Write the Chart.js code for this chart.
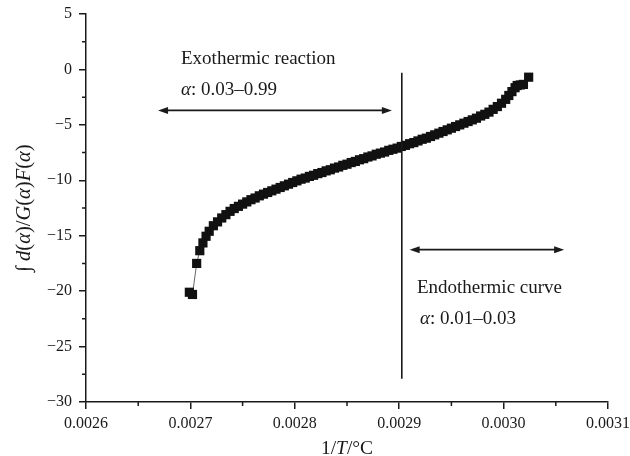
<!DOCTYPE html>
<html lang="en">
<head>
  <meta charset="UTF-8">
  <title>Integral vs 1/T</title>
  <script src="https://cdn.jsdelivr.net/npm/chart.js"></script>
  <style>
    body { margin: 0; background: #fff; }
    #wrap { width: 630px; height: 456px; }
  </style>
</head>
<body>
  <div id="wrap"><canvas id="chart"></canvas></div>
  <script>
    // values
    const invT = [
      0.002699, 0.002702, 0.002706, 0.002709, 0.002712, 0.002715, 0.002718, 0.002722,
      0.002726, 0.002730, 0.002734, 0.002738, 0.002742, 0.002746, 0.002750, 0.002754,
      0.002758, 0.002762, 0.002766, 0.002770, 0.002774, 0.002778, 0.002782, 0.002786,
      0.002790, 0.002794, 0.002798, 0.002802, 0.002806, 0.002810, 0.002814, 0.002818,
      0.002822, 0.002826, 0.002830, 0.002834, 0.002838, 0.002842, 0.002846, 0.002850,
      0.002854, 0.002858, 0.002862, 0.002866, 0.002870, 0.002874, 0.002878, 0.002882,
      0.002886, 0.002890, 0.002894, 0.002898, 0.002902, 0.002906, 0.002910, 0.002914,
      0.002918, 0.002922, 0.002926, 0.002930, 0.002934, 0.002938, 0.002942, 0.002946,
      0.002950, 0.002954, 0.002958, 0.002962, 0.002966, 0.002970, 0.002974, 0.002978,
      0.002982, 0.002986, 0.002990, 0.002994, 0.002998, 0.003002, 0.003005, 0.003008,
      0.003011, 0.003013, 0.003016, 0.003019, 0.003024
    ];
    const fAlpha = [
      -20.1, -20.3, -17.5, -16.35, -15.65, -15.05, -14.6, -14.1,
      -13.75, -13.4, -13.1, -12.8, -12.55, -12.35, -12.15, -11.95,
      -11.75, -11.6, -11.4, -11.25, -11.1, -10.95, -10.8, -10.65,
      -10.5, -10.35, -10.2, -10.05, -9.9, -9.8, -9.65, -9.55,
      -9.4, -9.3, -9.15, -9.05, -8.9, -8.8, -8.65, -8.55,
      -8.4, -8.3, -8.15, -8.05, -7.9, -7.8, -7.65, -7.55,
      -7.45, -7.3, -7.2, -7.1, -6.95, -6.85, -6.7, -6.6,
      -6.45, -6.3, -6.2, -6.05, -5.9, -5.75, -5.6, -5.45,
      -5.3, -5.15, -5.0, -4.85, -4.7, -4.55, -4.4, -4.2,
      -4.05, -3.85, -3.6, -3.35, -3.05, -2.7, -2.35, -2.0,
      -1.65, -1.45, -1.4, -1.35, -0.7
    ];
    const xTicks = [0.0026, 0.0027, 0.0028, 0.0029, 0.0030, 0.0031];
    const yTicks = [5, 0, -5, -10, -15, -20, -25, -30];

    // annotation anchors, in data units
    const splitX = 0.0029025;
    const splitTop = -0.3, splitBottom = -27.9;
    const exoArrow = { from: 0.002669, to: 0.002893, y: -3.7 };
    const endoArrow = { from: 0.002910, to: 0.003058, y: -16.26 };
    const exoText = { x: 0.002691, y1: 0.52, y2: -2.35 };
    const endoText = { x: 0.002917, y1: -20.2, y2: -22.92 };

    const SERIF = '"Liberation Serif", "DejaVu Serif", serif';
    const INK = '#1a1a1a';

    function runs(ctx, parts, x, y, size) {
      let cx = x;
      parts.forEach(([txt, ital]) => {
        ctx.font = (ital ? 'italic ' : '') + size + 'px ' + SERIF;
        ctx.fillText(txt, cx, y);
        cx += ctx.measureText(txt).width;
      });
      return cx - x;
    }

    function widthOf(ctx, parts, size) {
      let w = 0;
      parts.forEach(([txt, ital]) => {
        ctx.font = (ital ? 'italic ' : '') + size + 'px ' + SERIF;
        w += ctx.measureText(txt).width;
      });
      return w;
    }

    function head(ctx, x, y, dir) {
      ctx.beginPath();
      ctx.moveTo(x, y);
      ctx.lineTo(x - dir * 10, y - 3.5);
      ctx.lineTo(x - dir * 10, y + 3.5);
      ctx.closePath();
      ctx.fill();
    }

    function arrow(ctx, x1, x2, y) {
      ctx.beginPath();
      ctx.moveTo(x1 + 4, y);
      ctx.lineTo(x2 - 4, y);
      ctx.stroke();
      head(ctx, x1, y, -1);
      head(ctx, x2, y, 1);
    }

    const extras = {
      id: 'extras',
      afterDraw(chart) {
        const { ctx, scales: { x, y } } = chart;
        ctx.save();
        ctx.strokeStyle = INK;
        ctx.fillStyle = INK;

        // minor ticks
        ctx.lineWidth = 1.5;
        ctx.beginPath();
        for (let i = 0; i < xTicks.length - 1; i++) {
          const px = x.getPixelForValue((xTicks[i] + xTicks[i + 1]) / 2);
          ctx.moveTo(px, y.bottom);
          ctx.lineTo(px, y.bottom + 4);
        }
        for (let i = 0; i < yTicks.length - 1; i++) {
          const py = y.getPixelForValue((yTicks[i] + yTicks[i + 1]) / 2);
          ctx.moveTo(x.left, py);
          ctx.lineTo(x.left - 4, py);
        }
        ctx.stroke();

        // divider line
        const sx = x.getPixelForValue(splitX);
        ctx.lineWidth = 1.6;
        ctx.beginPath();
        ctx.moveTo(sx, y.getPixelForValue(splitTop));
        ctx.lineTo(sx, y.getPixelForValue(splitBottom));
        ctx.stroke();

        // arrows
        ctx.lineWidth = 1.8;
        arrow(ctx, x.getPixelForValue(exoArrow.from), x.getPixelForValue(exoArrow.to), y.getPixelForValue(exoArrow.y));
        arrow(ctx, x.getPixelForValue(endoArrow.from), x.getPixelForValue(endoArrow.to), y.getPixelForValue(endoArrow.y));

        // labels
        ctx.textBaseline = 'alphabetic';
        ctx.textAlign = 'left';
        runs(ctx, [['Exothermic reaction', false]], x.getPixelForValue(exoText.x), y.getPixelForValue(exoText.y1), 19);
        runs(ctx, [['α', true], [': 0.03–0.99', false]], x.getPixelForValue(exoText.x), y.getPixelForValue(exoText.y2), 19);
        runs(ctx, [['Endothermic curve', false]], x.getPixelForValue(endoText.x), y.getPixelForValue(endoText.y1), 19);
        runs(ctx, [['α', true], [': 0.01–0.03', false]], x.getPixelForValue(endoText.x) + 3, y.getPixelForValue(endoText.y2), 19);

        // x title
        const xt = [['1/', false], ['T', true], ['/°C', false]];
        const xw = widthOf(ctx, xt, 19.5);
        runs(ctx, xt, (x.left + x.right) / 2 - xw / 2, 454, 19.5);

        // y title
        const yt = [['∫ ', false], ['d', true], ['(', false], ['α', true], [')/', false], ['G', true],
                    ['(', false], ['α', true], [')', false], ['F', true], ['(', false], ['α', true], [')', false]];
        const yw = widthOf(ctx, yt, 20.5);
        ctx.translate(30, (y.top + y.bottom) / 2);
        ctx.rotate(-Math.PI / 2);
        runs(ctx, yt, -yw / 2, 0, 20.5);
        ctx.restore();
      }
    };

    new Chart(document.getElementById('chart'), {
      type: 'scatter',
      data: {
        datasets: [{
          data: invT.map((v, i) => ({ x: v, y: fAlpha[i] })),
          showLine: true,
          borderColor: '#666',
          borderWidth: 1,
          pointStyle: 'rect',
          pointRadius: 6.5,
          pointBackgroundColor: '#111',
          pointBorderColor: '#111',
          pointBorderWidth: 0
        }]
      },
      options: {
        responsive: true,
        maintainAspectRatio: false,
        animation: false,
        layout: { padding: { top: 14, right: 22, left: 0, bottom: 0 } },
        plugins: { legend: { display: false }, tooltip: { enabled: false } },
        scales: {
          x: {
            type: 'linear',
            min: 0.0026,
            max: 0.0031,
            afterBuildTicks: s => { s.ticks = xTicks.map(v => ({ value: v })); },
            afterFit: s => { s.height = 54; s.paddingRight = 0; s.paddingLeft = 0; },
            grid: { drawOnChartArea: false, drawTicks: true, tickLength: 7, color: INK, lineWidth: 1.5 },
            border: { display: true, color: INK, width: 1.5 },
            ticks: {
              color: INK,
              padding: 5,
              maxRotation: 0,
              font: { family: SERIF, size: 16 },
              callback: v => v.toFixed(4)
            }
          },
          y: {
            min: -30,
            max: 5,
            afterBuildTicks: s => { s.ticks = yTicks.map(v => ({ value: v })); },
            afterFit: s => { s.width = 86; s.paddingTop = 0; s.paddingBottom = 0; },
            grid: { drawOnChartArea: false, drawTicks: true, tickLength: 7, color: INK, lineWidth: 1.5 },
            border: { display: true, color: INK, width: 1.5 },
            ticks: {
              color: INK,
              padding: 7,
              font: { family: SERIF, size: 16 },
              callback: v => (v < 0 ? '−' + Math.abs(v) : String(v))
            }
          }
        }
      },
      plugins: [extras]
    });
  </script>
</body>
</html>
